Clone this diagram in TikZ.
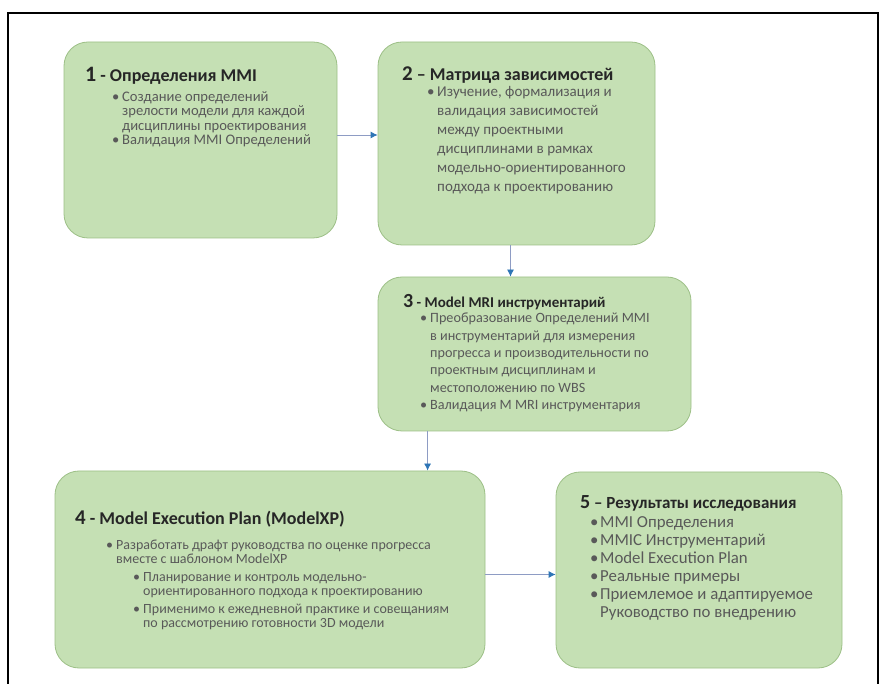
\documentclass[tikz,border=0pt]{standalone}
\usepackage{fontspec}
\setmainfont{Carlito}
\usetikzlibrary{arrows.meta,positioning}

\definecolor{stagefill}{HTML}{C5E0B4}
\definecolor{stageline}{HTML}{9CBF86}
\definecolor{bodygray}{HTML}{595959}
\definecolor{arrowline}{HTML}{8E9CC4}
\definecolor{arrowtip}{HTML}{2E75B6}

\begin{document}
\begin{tikzpicture}[x=1pt,y=-1pt]

  % Styles
  \tikzstyle{stage}=[draw=stageline,fill=stagefill,line width=0.8pt,rounded corners=24pt]
  \tikzstyle{head}=[anchor=base west,inner sep=0pt,text=black!85]
  \tikzstyle{body}=[anchor=north west,inner sep=0pt,align=left,text=bodygray]
  \tikzstyle{to}=[-{Latex[length=7pt,width=7pt,color=arrowtip]},draw=arrowline,line width=0.8pt]

  % \stagebox{<id>}{<x>}{<y>}{<width>}{<height>}
  \newcommand{\stagebox}[5]{node[stage,minimum width=#4pt,minimum height=#5pt] (#1) at (#2,#3) {}}
  % \headfont{<size>}, \bodyfont{<size>}{<skip>}
  \newcommand{\headfont}[1]{\bfseries\fontsize{#1}{#1}\selectfont}
  \newcommand{\bodyfont}[2]{\fontsize{#1}{#2}\selectfont}
  % bullet line, continued line
  \newcommand{\bitem}[1]{\makebox[10pt][l]{\textbullet}#1}
  \newcommand{\bcont}[1]{\hspace*{10pt}#1}

  % ===========================================================================

  \useasboundingbox (0,0) rectangle (884,684);
  \draw[line width=2pt] (8,684) -- (8,13) -- (878,13) -- (878,684);

  % Draw stages
  \path \stagebox{mmi}{200.5}{140}{273}{196};
  \path \stagebox{dsm}{516.5}{143.5}{277}{203};
  \path \stagebox{mri}{534.5}{354}{313}{154};
  \path \stagebox{mxp}{270}{569.5}{430}{197};
  \path \stagebox{res}{699}{570}{286}{196};

  % Stage 1
  \node[head,font=\headfont{18}] (mmi-t) at (85,82) {{\fontsize{22}{22}\selectfont 1} - Определения MMI};
  \node[body,font=\bodyfont{14.6}{14.5}] (mmi-b) at (112,91)
    {\bitem{Создание определений}\\ \bcont{зрелости модели для каждой}\\
     \bcont{дисциплины проектирования}\\ \bitem{Валидация MMI Определений}};

  % Stage 2
  \node[head,font=\headfont{18}] (dsm-t) at (402,81) {{\fontsize{21}{21}\selectfont 2} – Матрица зависимостей};
  \node[body,font=\bodyfont{15}{19}] (dsm-b) at (427,86)
    {\bitem{Изучение, формализация и}\\ \bcont{валидация зависимостей}\\
     \bcont{между проектными}\\ \bcont{дисциплинами в рамках}\\
     \bcont{модельно-ориентированного}\\ \bcont{подхода к проектированию}};

  % Stage 3
  \node[head,font=\headfont{15}] (mri-t) at (403,308) {{\fontsize{20}{20}\selectfont 3} - Model MRI инструментарий};
  \node[body,font=\bodyfont{14.2}{17.3}] (mri-b) at (420,313)
    {\bitem{Преобразование Определений MMI}\\ \bcont{в инструментарий для измерения}\\
     \bcont{прогресса и производительности по}\\ \bcont{проектным дисциплинам и}\\
     \bcont{местоположению по WBS}\\ \bitem{Валидация M MRI инструментария}};

  % Stage 4
  \node[head,font=\headfont{18}] (mxp-t) at (75,524) {{\fontsize{21}{21}\selectfont 4} - Model Execution Plan (ModelXP)};
  \node[body,font=\bodyfont{14}{14}] (mxp-b) at (106,540)
    {\bitem{Разработать драфт руководства по оценке прогресса}\\ \bcont{вместе с шаблоном ModelXP}\\[4pt]
     \hspace*{27pt}\bitem{Планирование и контроль модельно-}\\
     \hspace*{27pt}\bcont{ориентированного подхода к проектированию}\\[4pt]
     \hspace*{27pt}\bitem{Применимо к ежедневной практике и совещаниям}\\
     \hspace*{27pt}\bcont{по рассмотрению готовности 3D модели}};

  % Stage 5
  \node[head,font=\headfont{17}] (res-t) at (580,508) {{\fontsize{20}{20}\selectfont 5} – Результаты исследования};
  \node[body,font=\bodyfont{16.8}{18}] (res-b) at (590,516)
    {\bitem{MMI Определения}\\ \bitem{MMIC Инструментарий}\\ \bitem{Model Execution Plan}\\
     \bitem{Реальные примеры}\\ \bitem{Приемлемое и адаптируемое}\\ \bcont{Руководство по внедрению}};

  % Draw arrows
  \draw[to] ([yshift=5pt]mmi.east) -- ([yshift=5pt]mmi.east -| dsm.west);
  \draw[to] ([xshift=-6pt]dsm.south) -- ([xshift=-6pt]dsm.south |- mri.north);
  \draw[to] ([xshift=50pt]mri.south west) -- ([xshift=50pt]mri.south west |- mxp.north);
  \draw[to] ([yshift=-5pt]mxp.east) -- ([yshift=-5pt]mxp.east -| res.west);

\end{tikzpicture}
\end{document}
